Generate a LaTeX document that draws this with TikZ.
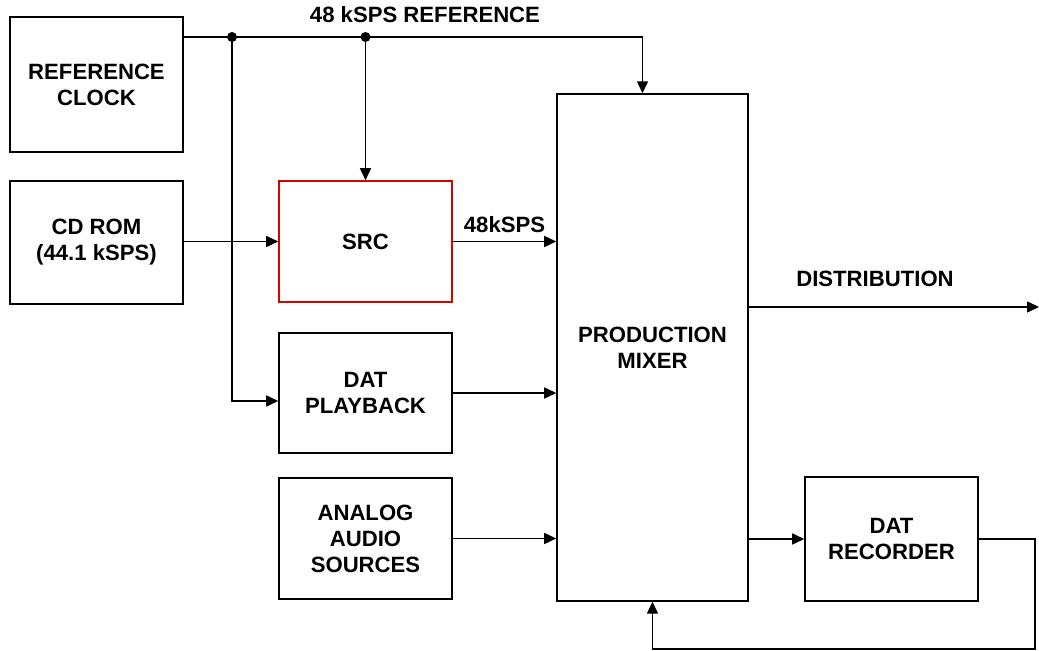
\documentclass[tikz,border=0pt]{standalone}
\usepackage{fontspec}
\setmainfont{Liberation Sans}
\usetikzlibrary{arrows.meta, positioning}

\tikzset{
  blockbox/.style={draw, line width=0.9pt, minimum width=3.46cm, minimum height=2.42cm, align=center, inner sep=0pt},
  lbl/.style={font=\bfseries\fontsize{12.6}{14.8}\selectfont, align=center},
  sig/.style={line width=0.9pt, -{Triangle[length=2.4mm, width=2.2mm]}},
  tap/.style={circle, fill, inner sep=0pt, minimum size=2mm}
}

\begin{document}
\begin{tikzpicture}[x=0.02cm, y=-0.02cm, every node/.append style={lbl}]
			\useasboundingbox (0,0) rectangle (1039,651);
			
			% Bloecke
			\node[blockbox, minimum height=2.7cm] (refclk) at (96.5,84.5) {REFERENCE\\CLOCK};
			\node[blockbox, minimum height=2.46cm] (cdrom) at (96.5,242.5) {CD ROM\\(44.1 kSPS)};
			\node[blockbox, draw=red!85!black] (src) at (365.5,241.5) {\raisebox{-0.12cm}{SRC}};
			\node[blockbox, minimum height=2.4cm] (datplay) at (365.5,393) {DAT\\PLAYBACK};
			\node[blockbox] (analog) at (365.5,538.5) {ANALOG\\AUDIO\\SOURCES};
			\node[blockbox, minimum width=3.82cm, minimum height=10.14cm] (mixer) at (652.5,347.5) {PRODUCTION\\MIXER};
			\node[blockbox, minimum height=2.48cm] (datrec) at (891.5,539) {DAT\\RECORDER};
			
			% Referenztakt
			\coordinate (tapA) at (232,37);
			\coordinate (tapB) at (365.5,37);
			\node (reflabel) at (425,15) {48 kSPS REFERENCE};
			\draw[sig] (refclk.east |- tapA) -- (tapA) -- (tapB) -| ([xshift=-0.2cm]mixer.north);
			\draw[sig] (tapB) -- (src.north);
			\draw[sig] (tapA) |- ([yshift=-0.16cm]datplay.west);
			\node[tap] at (tapA) {};
			\node[tap] at (tapB) {};
			
			% Signalwege
			\draw[sig] (cdrom.east |- src.west) -- (src.west);
			\draw[sig] (src.east) -- (src.east -| mixer.west) node[midway, above=1pt] (srclabel) {48kSPS};
			\draw[sig] (datplay.east) -- (datplay.east -| mixer.west);
			\draw[sig] (analog.east) -- (analog.east -| mixer.west);
			
			% Ausgaenge
			\coordinate (distout) at (1039,307);
			\node (distlabel) at (875,279) {DISTRIBUTION};
			\draw[sig] (mixer.east |- distout) -- (distout);
			\draw[sig] (datrec.west -| mixer.east) -- (datrec.west);
			\coordinate (fbk) at (1035,649);
			\draw[sig] (datrec.east) -| (fbk) -| (mixer.south);
		\end{tikzpicture}
\end{document}
